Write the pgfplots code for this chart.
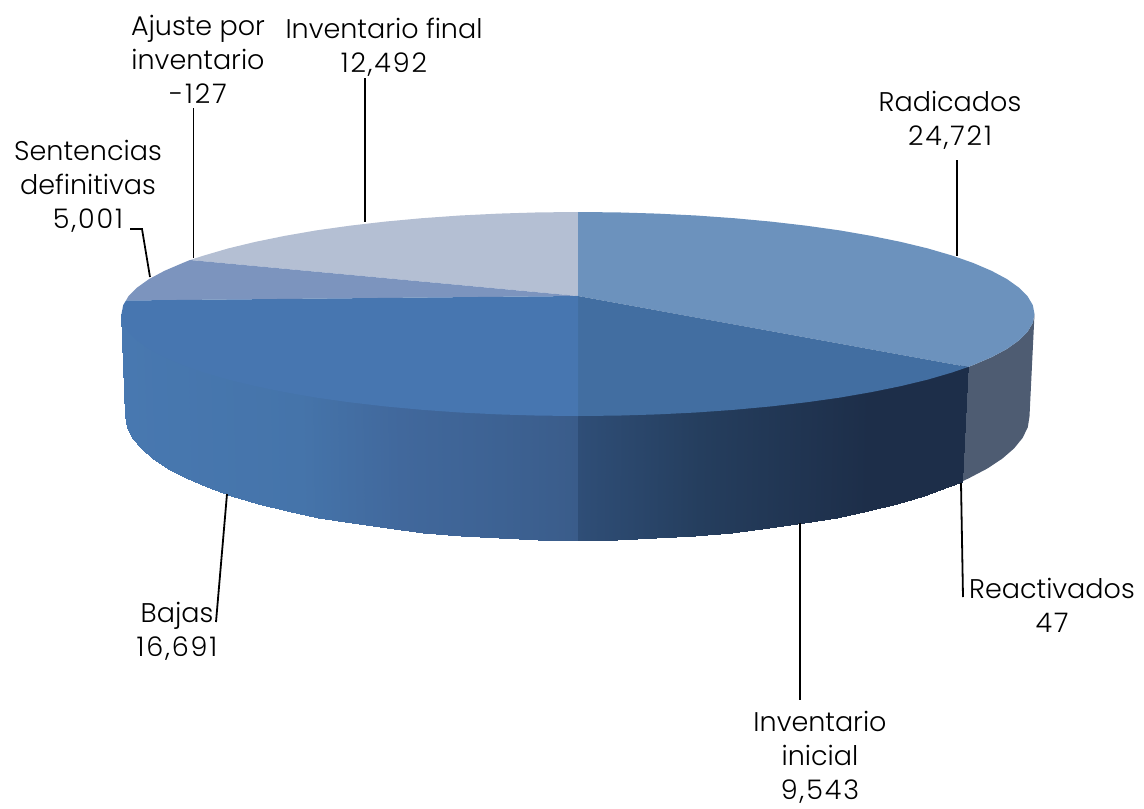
\documentclass[border=0pt]{standalone}
\usepackage{fontspec}
\setmainfont{Poppins Light}
\usepackage{pgfplots}
\pgfplotsset{compat=1.18}
\newcommand{\lab}{\fontsize{27}{34}\selectfont}
\newcommand{\nm}[1]{{\addfontfeature{LetterSpace=7}#1}}
\begin{document}
\begin{tikzpicture}[x=1pt,y=1pt]
\useasboundingbox (0,0) rectangle (1144,809);
\begin{axis}[
  at={(0,0)},anchor=south west,
  scale only axis,width=1144pt,height=809pt,
  xmin=0,xmax=1144,ymin=0,ymax=809,y dir=reverse,
  hide axis,clip=false,
  point meta min=121,point meta max=1034,
  colormap={pie}{rgb255(121pt)=(72,120,176); rgb255(300pt)=(69,116,170); rgb255(400pt)=(65,104,156); rgb255(500pt)=(61,98,147); rgb255(577pt)=(58,92,138); rgb255(579pt)=(47,78,119); rgb255(700pt)=(37,62,94); rgb255(870pt)=(29,46,73); rgb255(1034pt)=(29,46,73)},
]
% Radicados, side
\addplot[fill={rgb,255:red,78;green,92;blue,114},draw=none] coordinates {(968,367)(973.3,365)(991.7,357.1)(1007,348.9)(1018.9,340.4)(1027.6,331.7)(1032.8,322.9)(1034.5,314)(1029.5,416.4)(1027.8,427.2)(1022.6,437.9)(1014.1,448.4)(1002.2,458.7)(987.2,468.6)(968.9,478.2)(962,481.5)} --cycle;
% Bajas, side
\addplot[surf,shader=interp,mesh/cols=2,point meta=explicit] table[x=x,y=y,meta=c] {
x y c
121.5 314 121.5
125.5 416.4 121.5
123.2 319 123
127.2 427.2 123
128.4 327 128
132.4 437.9 128
137.1 335 137
140.9 448.4 137
149 344 149
152.8 458.7 149
164.3 352 164
167.8 468.6 164
182.7 360 183
186.1 478.2 183
204 367.5 204
207.2 487.3 204
228.3 374.6 228
231.3 495.9 228
255.2 381.1 255
257.9 503.8 255
284.6 387.1 285
287 511.1 285
316.2 392.6 316
318.2 517.7 316
349.7 397.3 350
351.5 523.4 350
385.1 401.4 385
386.5 528.4 385
421.9 404.8 422
422.9 532.5 422
459.9 407.5 460
460.5 535.8 460
498.7 409.4 499
499 538.1 499
538.2 410.6 538
538.1 539.5 538
578 411 577
577.5 540 577
};
% Inventario inicial, side
\addplot[surf,shader=interp,mesh/cols=2,point meta=explicit] table[x=x,y=y,meta=c] {
x y c
578 411 579
577.5 540 579
617.8 410.6 618
616.9 539.5 618
657.3 409.4 657
656 538.1 657
696.1 407.5 696
694.5 535.8 696
734.1 404.8 734
732.1 532.5 734
770.9 401.4 771
768.5 528.4 771
806.3 397.3 806
803.5 523.4 806
839.8 392.6 840
836.8 517.7 840
871.4 387.1 871
868 511.1 871
900.8 381.1 901
897.1 503.8 901
927.7 374.6 928
923.7 495.9 928
952 367.5 952
947.8 487.3 952
968 362 968
962 481.5 968
};
% Inventario final, top
\addplot[fill={rgb,255:red,180;green,191;blue,211},draw=none] coordinates {(578,296)(190,260)(204,255.5)(228.3,248.4)(255.2,241.9)(284.6,235.9)(316.2,230.4)(349.7,225.7)(385.1,221.6)(421.9,218.2)(459.9,215.5)(498.7,213.6)(538.2,212.4)(578,212)} --cycle;
% Sentencias definitivas (and ajuste), top
\addplot[fill={rgb,255:red,124;green,148;blue,190},draw=none] coordinates {(578,296)(126,300.5)(128.4,296.3)(137.1,287.6)(149,279.1)(164.3,270.9)(182.7,263)(190,260)} --cycle;
% Radicados, top
\addplot[fill={rgb,255:red,108;green,146;blue,189},draw=none] coordinates {(578,296)(578,212)(617.8,212.4)(657.3,213.6)(696.1,215.5)(734.1,218.2)(770.9,221.6)(806.3,225.7)(839.8,230.4)(871.4,235.9)(900.8,241.9)(927.7,248.4)(952,255.5)(973.3,263)(991.7,270.9)(1007,279.1)(1018.9,287.6)(1027.6,296.3)(1032.8,305.1)(1034.5,314)(1032.8,322.9)(1027.6,331.7)(1018.9,340.4)(1007,348.9)(991.7,357.1)(973.3,365)(968,367)} --cycle;
% Inventario inicial, top
\addplot[fill={rgb,255:red,66;green,110;blue,161},draw=none] coordinates {(578,296)(968,367)(952,372.5)(927.7,379.6)(900.8,386.1)(871.4,392.1)(839.8,397.6)(806.3,402.3)(770.9,406.4)(734.1,409.8)(696.1,412.5)(657.3,414.4)(617.8,415.6)(578,416)} --cycle;
% Bajas, top
\addplot[fill={rgb,255:red,71;green,118;blue,176},draw=none] coordinates {(578,296)(578,416)(538.2,415.6)(498.7,414.4)(459.9,412.5)(421.9,409.8)(385.1,406.4)(349.7,402.3)(316.2,397.6)(284.6,392.1)(255.2,386.1)(228.3,379.6)(204,372.5)(182.7,365)(164.3,357.1)(149,348.9)(137.1,340.4)(128.4,331.7)(123.2,322.9)(121.5,314)(123.2,305.1)(126,300.5)} --cycle;
% Leader lines
\addplot[black,line width=1.8pt] coordinates {(957,160)(957,256)};
\addplot[black,line width=1.8pt] coordinates {(961,483)(963,597)};
\addplot[black,line width=1.8pt] coordinates {(800,523)(800,700)};
\addplot[black,line width=1.8pt] coordinates {(227,494)(216,622)};
\addplot[black,line width=1.8pt] coordinates {(130,229)(142,229)(150,277)};
\addplot[black,line width=1.8pt] coordinates {(193.5,108)(193.5,258)};
\addplot[black,line width=1.8pt] coordinates {(365,78)(365,222)};
% Labels
\node[align=center,font=\lab] at (axis cs:198,59) {Ajuste por\\inventario\\\nm{-127}};
\node[align=center,font=\lab] at (axis cs:384,47) {Inventario final\\\nm{12,492}};
\node[align=center,font=\lab] at (axis cs:88,186) {Sentencias\\definitivas\\\nm{5,001}};
\node[align=center,font=\lab] at (axis cs:950,120) {Radicados\\\nm{24,721}};
\node[align=center,font=\lab] at (axis cs:1052,605) {Reactivados\\\nm{47}};
\node[align=center,font=\lab,inner sep=0pt] at (axis cs:820,757) {Inventario\\inicial\\\nm{9,543}};
\node[align=center,font=\lab] at (axis cs:177,631) {Bajas\\\nm{16,691}};
\end{axis}
\end{tikzpicture}
\end{document}
